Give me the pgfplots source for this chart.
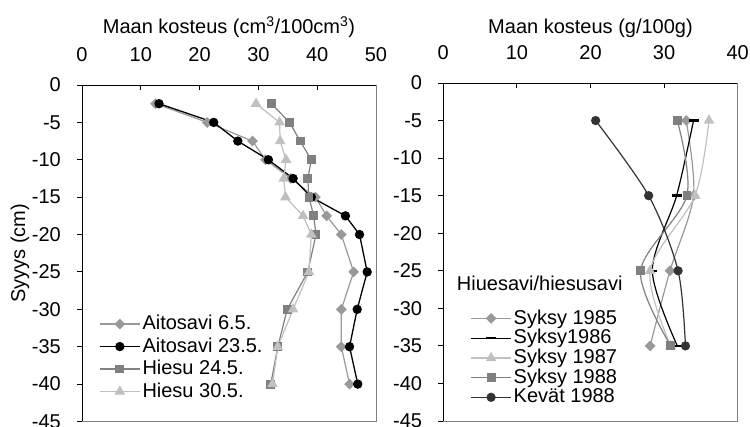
\documentclass[border=0pt]{standalone}
\usepackage{fontspec}
\setmainfont{Liberation Sans}
\usepackage{pgfplots}
\pgfplotsset{compat=1.18}

\definecolor{cdia}{HTML}{999999}
\definecolor{csq}{HTML}{808080}
\definecolor{ctri}{HTML}{C0C0C0}
\definecolor{ckev}{HTML}{333333}
\definecolor{cframe}{HTML}{808080}

\pgfplotsset{
  profile/.style={
    scale only axis,
    axis x line*=top, axis y line*=left,
    ymin=-45, ymax=0, ytick={-45,-40,...,0},
    xtick align=inside, ytick align=outside,
    major tick length=5pt,
    axis line style={black, line width=0.9pt},
    tick style={black, line width=0.9pt},
    /pgf/number format/assume math mode=true,
    xticklabel style={anchor=center, yshift=30pt},
    yticklabel style={anchor=east, inner sep=0pt, xshift=-16pt},
    legend cell align=left,
    legend image code/.code={\draw[mark repeat=2,mark phase=2] plot coordinates {(0pt,0pt) (20pt,0pt) (40pt,0pt)};},
    after end axis/.code={\draw[cframe, line width=0.9pt] (rel axis cs:1,1) -- (rel axis cs:1,0) -- (rel axis cs:0,0);},
  },
  dia/.style={cdia, line width=1.2pt, mark=square*, mark size=3.2pt, mark options={rotate=45, solid}},
  blk/.style={black, line width=1.3pt, mark=*, mark size=4pt},
  sq/.style={csq, line width=1.2pt, mark=square*, mark size=3.8pt},
  tri/.style={ctri, line width=1.2pt, mark=triangle*, mark size=5pt},
  dash/.style={black, line width=1.2pt, mark=-, mark size=5pt, mark options={line width=2.5pt}},
  kev/.style={ckev, line width=1.2pt, mark=*, mark size=4pt},
}

\begin{document}
\fontsize{20pt}{23pt}\selectfont
\begin{tikzpicture}
\useasboundingbox (0pt,0pt) rectangle (750pt,427pt);

% volumetric moisture, clay and silt profiles
\begin{axis}[profile,
  at={(82pt,5.5pt)}, anchor=south west,
  width=294pt, height=336.5pt,
  xmin=0, xmax=50, xtick={0,10,...,50},
  xlabel={Maan kosteus (cm\textsuperscript{3}/100cm\textsuperscript{3})},
  every axis x label/.style={at={([yshift=58pt]rel axis cs:0.5,1)}, anchor=center},
  ylabel={Syyys (cm)},
  every axis y label/.style={at={([xshift=-62pt]rel axis cs:0,0.5)}, rotate=90, anchor=center},
  legend style={at={(rel axis cs:0,0)}, anchor=south west, xshift=14pt, yshift=17pt,
    draw=none, fill=none, row sep=1pt},
]
\addplot[dia] coordinates {(12.5,-2.5) (21.3,-5) (29.0,-7.5) (31.2,-10) (35.5,-12.5) (39.7,-15) (41.6,-17.5) (44.1,-20) (46.2,-25) (44.1,-30) (44.1,-35) (45.5,-40)};
\addlegendentry{Aitosavi 6.5.}
\addplot[blk] coordinates {(13.1,-2.5) (22.4,-5) (26.5,-7.5) (31.7,-10) (35.9,-12.5) (39.0,-15) (44.8,-17.5) (47.2,-20) (48.5,-25) (46.8,-30) (45.5,-35) (46.9,-40)};
\addlegendentry{Aitosavi 23.5.}
\addplot[sq] coordinates {(32.2,-2.5) (35.3,-5) (37.1,-7.5) (39.0,-10) (38.4,-12.5) (38.6,-15) (39.4,-17.5) (39.8,-20) (38.4,-25) (34.9,-30) (33.3,-35) (32.1,-40)};
\addlegendentry{Hiesu 24.5.}
\addplot[tri] coordinates {(29.6,-2.5) (33.6,-5) (33.7,-7.5) (34.7,-10) (34.3,-12.5) (34.6,-15) (37.6,-17.5) (39.0,-20) (38.6,-25) (35.9,-30) (33.3,-35) (32.4,-40)};
\addlegendentry{Hiesu 30.5.}
\end{axis}

% gravimetric moisture, silty clay
\begin{axis}[profile,
  at={(443.3pt,6pt)}, anchor=south west,
  width=294.4pt, height=338pt,
  xmin=0, xmax=40, xtick={0,10,...,40},
  xlabel={Maan kosteus (g/100g)},
  every axis x label/.style={at={([yshift=55pt]rel axis cs:0.5,1)}, anchor=center},
  legend style={at={(rel axis cs:0,0)}, anchor=south west, xshift=24pt, yshift=11pt,
    draw=none, fill=none, row sep=-1.7pt},
]
\addplot[dia, smooth] coordinates {(33.0,-5) (34.0,-15) (30.8,-25) (28.1,-35)};
\addlegendentry{Syksy 1985}
\addplot[dash, smooth] coordinates {(34.0,-5) (31.7,-15) (28.4,-25) (31.8,-35)};
\addlegendentry{Syksy1986}
\addplot[tri, smooth] coordinates {(36.1,-5) (34.2,-15) (28.1,-25) (30.9,-35)};
\addlegendentry{Syksy 1987}
\addplot[sq, smooth] coordinates {(31.8,-5) (33.1,-15) (26.8,-25) (30.9,-35)};
\addlegendentry{Syksy 1988}
\addplot[kev, smooth] coordinates {(20.7,-5) (27.9,-15) (31.9,-25) (32.9,-35)};
\addlegendentry{Kevät 1988}
\end{axis}

\node[anchor=west, inner sep=0pt] at (456.7pt,143.7pt) {Hiuesavi/hiesusavi};
\end{tikzpicture}
\end{document}
